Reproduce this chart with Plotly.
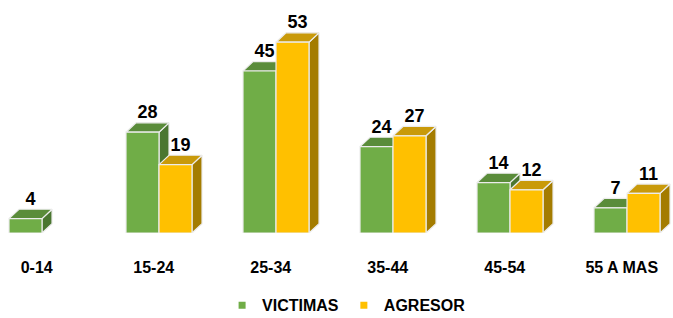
import plotly.graph_objects as go

# ---- data ----
categories = ["0-14", "15-24", "25-34", "35-44", "45-54", "55 A MAS"]
victimas = [4, 28, 45, 24, 14, 7]
agresor = [None, 19, 53, 27, 12, 11]
series_names = ["VICTIMAS", "AGRESOR"]

# ---- style ----
front_colors = ["#70AD47", "#FFC000"]
top_colors = ["#5A8C3A", "#C99A0A"]
side_colors = ["#4A7630", "#A47C00"]
outline = "rgba(236,236,236,1)"
FONT = "Liberation Sans, Arial, sans-serif"

W = 0.282      # bar front width (x units)
DX = 0.0855    # depth in x units
DY = 2.6       # depth in y units

fig = go.Figure()

text_traces = []
for s, vals in enumerate([victimas, agresor]):
    offset = -W if s == 0 else 0.0
    fx, fy, tx, ty, sx, sy = [], [], [], [], [], []
    lx, ly, lt = [], [], []
    for i, v in enumerate(vals):
        if v is None:
            continue
        x0 = i + offset
        x1 = x0 + W
        fx += [x0, x1, x1, x0, x0, None]
        fy += [0, 0, v, v, 0, None]
        tx += [x0, x1, x1 + DX, x0 + DX, x0, None]
        ty += [v, v, v + DY, v + DY, v, None]
        sx += [x1, x1 + DX, x1 + DX, x1, x1, None]
        sy += [0, DY, v + DY, v, 0, None]
        lx.append((x0 + x1 + DX) / 2)
        ly.append(v + DY)
        lt.append(str(v))
    for xs, ys, col in [(sx, sy, side_colors[s]), (tx, ty, top_colors[s]), (fx, fy, front_colors[s])]:
        fig.add_trace(go.Scatter(
            x=xs, y=ys, mode="lines", fill="toself", fillcolor=col,
            line=dict(color=outline, width=1.2), showlegend=False,
            hoverinfo="skip", connectgaps=False))
    text_traces.append(go.Scatter(
        x=lx, y=ly, mode="text", text=lt, textposition="top center",
        textfont=dict(family=FONT, size=18, color="black", weight="bold"),
        showlegend=False, hoverinfo="skip", cliponaxis=False))

for t in text_traces:
    fig.add_trace(t)

# legend entries
for s, name in enumerate(series_names):
    fig.add_trace(go.Scatter(
        x=[None], y=[None], mode="markers", name=name,
        marker=dict(symbol="square", size=7, color=front_colors[s])))

fig.update_layout(
    width=673, height=318,
    margin=dict(l=0, r=0, t=0, b=85, autoexpand=False),
    paper_bgcolor="white", plot_bgcolor="white",
    showlegend=True,
    legend=dict(orientation="h", x=0.515, xanchor="center", y=-0.31, yanchor="middle",
                font=dict(family=FONT, size=16, color="black", weight="bold"),
                itemwidth=30, bgcolor="rgba(0,0,0,0)"),
    xaxis=dict(range=[-0.359, 5.393], showgrid=False, zeroline=False, showline=False,
               automargin=False,
               tickmode="array", tickvals=[i - 0.045 for i in range(len(categories))],
               ticktext=categories, ticks="", ticklabelstandoff=23,
               tickfont=dict(family=FONT, size=16, color="black", weight="bold"),
               fixedrange=True),
    yaxis=dict(range=[0, 64.72], visible=False, fixedrange=True, automargin=False),
)

fig.write_html("out.html", config={"displayModeBar": False},
               post_script="document.body.style.margin='0';")
